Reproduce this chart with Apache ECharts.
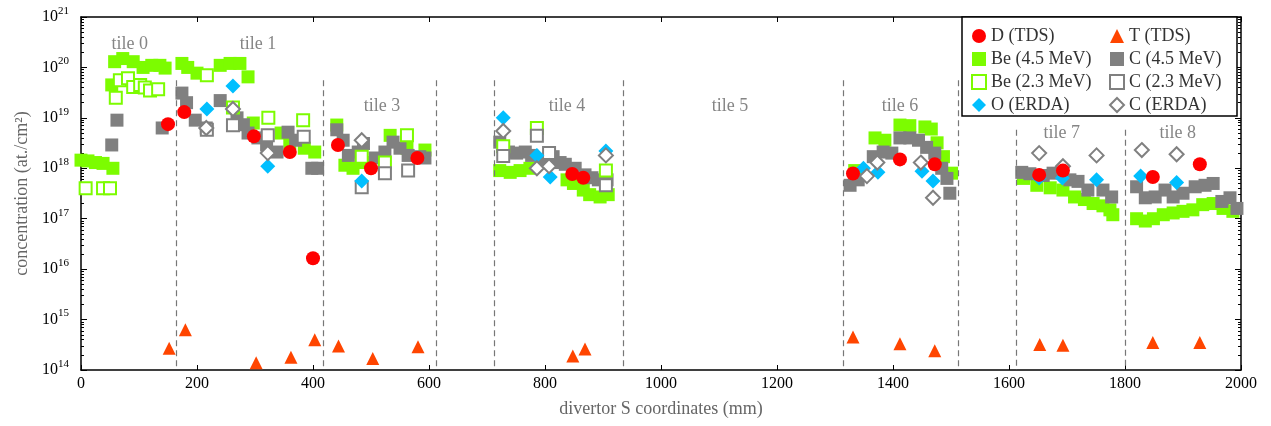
<!DOCTYPE html>
<html>
<head>
<meta charset="utf-8">
<script src="https://cdn.jsdelivr.net/npm/echarts@6/dist/echarts.min.js"></script>
<style>
  html, body { margin: 0; padding: 0; background: #fff; }
  #main { width: 1271px; height: 426px; }
</style>
</head>
<body>
<div id="main"></div>
<script>
// D (TDS)
var dS = [150, 178, 298, 360, 400, 443, 500, 580, 847, 866, 1331, 1412, 1472, 1652, 1693, 1848, 1929]
var dVal = [7.5e18, 1.3e19, 4.3e18, 2.1e18, 1.65e16, 2.9e18, 1e18, 1.6e18, 7.7e17, 6.5e17, 7.9e17, 1.5e18, 1.2e18, 7.4e17, 9e17, 6.7e17, 1.2e18]

// T (TDS)
var tS = [152, 180, 302, 362, 403, 444, 503, 581, 848, 869, 1331, 1412, 1472, 1653, 1693, 1848, 1929]
var tVal = [2.7e14, 6.3e14, 1.4e14, 1.8e14, 4e14, 3e14, 1.7e14, 2.9e14, 1.9e14, 2.6e14, 4.5e14, 3.3e14, 2.4e14, 3.2e14, 3.1e14, 3.5e14, 3.5e14]

// Be (4.5 MeV)
var be45S = [0, 12, 25, 38, 55, 53, 58, 72, 90, 107, 122, 136, 145,
    174, 184, 200, 240, 257, 274, 288, 297, 345, 360, 385, 403,
    441, 455, 469, 487, 533, 562, 593,
    722, 740, 757, 774, 810, 838, 849, 866, 877, 895, 909,
    1334, 1369, 1386, 1412, 1429, 1455, 1466, 1476, 1487, 1501,
    1625, 1648, 1671, 1693, 1713, 1730, 1745, 1762, 1774, 1779,
    1820, 1835, 1849, 1866, 1883, 1900, 1917, 1934, 1952, 1969, 1986]
var be45Val = [1.45e18, 1.4e18, 1.3e18, 1.25e18, 1e18, 4.5e19, 1.3e20, 1.5e20, 1.3e20, 1e20, 1.1e20, 1.1e20, 9.7e19,
    1.2e20, 1e20, 7.7e19, 1.1e20, 1.2e20, 1.2e20, 6.5e19, 7.9e18, 5e18, 3.2e18, 2.5e18, 2.1e18,
    7.2e18, 1.15e18, 1e18, 1.3e18, 4.5e18, 2.5e18, 2.3e18,
    9e17, 8.3e17, 9e17, 1e18, 1.6e18, 5.9e17, 5e17, 3.7e17, 3e17, 2.7e17, 3e17,
    9e17, 4e18, 3.6e18, 7.2e18, 7e18, 6.6e18, 6e18, 3.2e18, 1.7e18, 8e17,
    6.3e17, 4.6e17, 4.1e17, 3.7e17, 2.7e17, 2.4e17, 2e17, 1.8e17, 1.5e17, 1.2e17,
    1e17, 9e16, 1e17, 1.2e17, 1.3e17, 1.4e17, 1.5e17, 1.9e17, 2e17, 1.6e17, 1.4e17]

// Be (2.3 MeV)
var be23S = [8, 38, 50, 60, 67, 81, 90, 102, 110, 119, 133,
    217, 262, 323, 383,
    484, 524, 562,
    728, 786, 905]
var be23Val = [4e17, 4e17, 4e17, 2.5e19, 5.6e19, 6.1e19, 4.1e19, 4.5e19, 4e19, 3.5e19, 3.7e19,
    7e19, 1.6e19, 1e19, 9e18,
    1.7e18, 1.3e18, 4.5e18,
    2.75e18, 6.3e18, 9e17]

// C (4.5 MeV)
var c45S = [53, 62, 140,
    174, 182, 197, 216, 240, 269, 280, 288, 305, 320, 338, 357, 370, 398, 408,
    441, 452, 461, 478, 487, 507, 524, 538, 550, 564, 584, 593,
    722, 737, 751, 766, 777, 797, 814, 826, 835, 852, 869, 881, 892, 907,
    1326, 1340, 1366, 1383, 1398, 1412, 1429, 1444, 1458, 1472, 1484, 1493, 1498,
    1622, 1636, 1659, 1676, 1705, 1719, 1736, 1762, 1777,
    1820, 1835, 1852, 1869, 1883, 1900, 1921, 1938, 1952, 1967, 1981, 1993]
var c45Val = [2.9e18, 9e18, 6.3e18,
    3.1e19, 2e19, 9e18, 6.3e18, 2.2e19, 1e19, 7.3e18, 5e18, 4e18, 2.9e18, 2.1e18, 5.2e18, 3.6e18, 1e18, 1e18,
    5.8e18, 3.6e18, 1.8e18, 2.1e18, 3.1e18, 1.6e18, 2.1e18, 3.3e18, 2.5e18, 1.8e18, 1.7e18, 1.6e18,
    3.3e18, 2.1e18, 2e18, 2.1e18, 1.8e18, 1.3e18, 1.7e18, 1.3e18, 1.2e18, 1e18, 7.4e17, 6.5e17, 5.9e17, 5.9e17,
    4.6e17, 5.9e17, 1.7e18, 2.1e18, 2e18, 4e18, 4e18, 3.6e18, 2.6e18, 2e18, 1e18, 6.3e17, 3.2e17,
    8.3e17, 7.8e17, 7.2e17, 8e17, 5.9e17, 5.5e17, 3.7e17, 3.7e17, 2.7e17,
    4.3e17, 2.6e17, 2.7e17, 3.7e17, 2.7e17, 3.2e17, 4.3e17, 4.6e17, 5e17, 2.2e17, 2.6e17, 1.6e17]

// C (2.3 MeV)
var c23S = [217, 262, 322, 384, 484, 524, 564, 728, 786, 807, 905]
var c23Val = [5.8e18, 7.1e18, 4.5e18, 4.2e18, 4.2e17, 8e17, 9e17, 1.75e18, 4.4e18, 2e18, 4.6e17]

// C (ERDA)
var cErdaS = [216, 262, 322, 484, 728, 786, 807, 905, 1355, 1373, 1448, 1469, 1652, 1693, 1751, 1829, 1889]
var cErdaVal = [6.3e18, 1.5e19, 2e18, 3.6e18, 5.5e18, 1e18, 1.1e18, 1.8e18, 7e17, 1.3e18, 1.3e18, 2.6e17, 2e18, 1.1e18, 1.8e18, 2.3e18, 1.9e18]

// O (ERDA)
var oS = [217, 262, 322, 484, 728, 786, 809, 905, 1349, 1374, 1450, 1469, 1652, 1692, 1751, 1827, 1889]
var oVal = [1.5e19, 4.3e19, 1.1e18, 5.6e17, 1e19, 1.8e18, 6.7e17, 2.2e18, 1e18, 8.3e17, 8.7e17, 5.6e17, 6.4e17, 6.4e17, 5.9e17, 7e17, 5.2e17]

// tile names and divider lines
var tileNames = ['tile 0', 'tile 1', 'tile 3', 'tile 4', 'tile 5', 'tile 6', 'tile 7', 'tile 8']
var tileS = [84, 305, 519, 838, 1119, 1412, 1691, 1891]
var tileY = [2.9e20, 2.9e20, 1.7e19, 1.7e19, 1.7e19, 1.7e19, 5e18, 5e18]
var dividerS = [165, 417, 612, 712, 935, 1315, 1512, 1612, 1800]
var dividerTop = [5.6e19, 5.6e19, 5.6e19, 5.6e19, 5.6e19, 5.6e19, 5.6e19, 5.8e18, 5.8e18]

function zip(a, b) {
    return a.map(function (v, i) { return [v, b[i]] })
}

// minor log ticks (2..9 x 10^n) in exponent space
var minorLog = []
for (var n = 14; n < 21; n++) {
    for (var k = 2; k <= 9; k++) minorLog.push(n + Math.log10(k))
}

var serif = 'Liberation Serif'
var SZ = 13

var myChart = echarts.init(document.getElementById('main'))

var legendBase = {
    top: 27, orient: 'vertical', padding: 0, z: 10,
    itemWidth: 14, itemHeight: 14, itemGap: 5, itemTextGap: 8,
    selectedMode: false,
    textStyle: { fontFamily: serif, fontSize: 18, color: '#333' }
}

var option = {
    animation: false,
    backgroundColor: '#fff',
    textStyle: { fontFamily: serif },
    grid: { left: 81, right: 30, top: 17, bottom: 56 },
    legend: [
        Object.assign({}, legendBase, {
            left: 971,
            data: ['D (TDS)', 'Be (4.5 MeV)', 'Be (2.3 MeV)', 'O (ERDA)']
        }),
        Object.assign({}, legendBase, {
            left: 1109,
            data: ['T (TDS)', 'C (4.5 MeV)', 'C (2.3 MeV)', 'C (ERDA)']
        })
    ],
    graphic: [{
        type: 'rect', z: 5,
        shape: { x: 962, y: 17, width: 275, height: 99 },
        style: { fill: '#fff', stroke: '#000', lineWidth: 1.5 }
    }],
    xAxis: [
        {
            type: 'value', min: 0, max: 2000, interval: 200,
            name: 'divertor S coordinates (mm)', nameLocation: 'middle', nameGap: 30,
            nameTextStyle: { fontFamily: serif, fontSize: 18, color: '#666' },
            axisLine: { lineStyle: { color: '#000', width: 1.5 } },
            axisTick: { inside: true, length: 5, lineStyle: { color: '#000' } },
            axisLabel: {
                fontFamily: serif, fontSize: 16, color: '#000', margin: 6,
                formatter: function (v) { return String(v) }
            },
            splitLine: { show: false }
        },
        {
            type: 'value', min: 0, max: 2000, interval: 200, position: 'top',
            axisLine: { lineStyle: { color: '#000', width: 1.5 } },
            axisTick: { inside: true, length: 5, lineStyle: { color: '#000' } },
            axisLabel: { show: false },
            splitLine: { show: false }
        }
    ],
    yAxis: [
        {
            type: 'log', logBase: 10, min: 1e14, max: 1e21, splitNumber: 7,
            name: 'concentration (at./cm²)', nameLocation: 'middle', nameGap: 50,
            nameTextStyle: { fontFamily: serif, fontSize: 18, color: '#666' },
            axisLine: { lineStyle: { color: '#000', width: 1.5 } },
            axisTick: { inside: true, length: 6, lineStyle: { color: '#000' } },
            axisLabel: {
                margin: 12,
                formatter: function (v) {
                    return '{b|10}{s|' + Math.round(Math.log10(v)) + '}'
                },
                rich: {
                    b: { fontFamily: serif, fontSize: 16, color: '#000' },
                    s: { fontFamily: serif, fontSize: 11, color: '#000', padding: [0, 0, 12, 0] }
                }
            },
            splitLine: { show: false }
        },
        {
            type: 'value', min: 14, max: 21, position: 'left',
            axisLine: { show: false },
            axisTick: { inside: true, length: 3, customValues: minorLog, lineStyle: { color: '#000' } },
            axisLabel: { show: false },
            splitLine: { show: false }
        },
        {
            type: 'log', logBase: 10, min: 1e14, max: 1e21, splitNumber: 7, position: 'right',
            axisLine: { lineStyle: { color: '#000', width: 1.5 } },
            axisTick: { inside: true, length: 6, lineStyle: { color: '#000' } },
            axisLabel: { show: false },
            splitLine: { show: false }
        },
        {
            type: 'value', min: 14, max: 21, position: 'right',
            axisLine: { show: false },
            axisTick: { inside: true, length: 3, customValues: minorLog, lineStyle: { color: '#000' } },
            axisLabel: { show: false },
            splitLine: { show: false }
        }
    ],
    series: [
        {
            name: 'dividers', type: 'scatter', data: [], silent: true,
            markLine: {
                silent: true, symbol: 'none', animation: false,
                label: { show: false },
                lineStyle: { color: '#777', width: 1.2, type: [6, 4] },
                data: dividerS.map(function (s, i) {
                    return [{ coord: [s, dividerTop[i]] }, { coord: [s, 1e14] }]
                })
            }
        },
        {
            name: 'tiles', type: 'scatter', silent: true, symbolSize: 1,
            itemStyle: { color: 'transparent' },
            label: {
                show: true, position: 'inside', formatter: '{b}',
                fontFamily: serif, fontSize: 18, color: '#666'
            },
            data: tileNames.map(function (t, i) { return { name: t, value: [tileS[i], tileY[i]] } })
        },
        {
            name: 'Be (4.5 MeV)', type: 'scatter', symbol: 'rect', symbolSize: SZ,
            itemStyle: { color: '#7cfc00', opacity: 1 },
            data: zip(be45S, be45Val)
        },
        {
            name: 'C (4.5 MeV)', type: 'scatter', symbol: 'rect', symbolSize: SZ,
            itemStyle: { color: '#808080', opacity: 1 },
            data: zip(c45S, c45Val)
        },
        {
            name: 'Be (2.3 MeV)', type: 'scatter', symbol: 'rect', symbolSize: SZ - 1,
            itemStyle: { color: '#fff', borderColor: '#7cfc00', borderWidth: 2, opacity: 1 },
            data: zip(be23S, be23Val)
        },
        {
            name: 'C (2.3 MeV)', type: 'scatter', symbol: 'rect', symbolSize: SZ - 1,
            itemStyle: { color: '#fff', borderColor: '#808080', borderWidth: 2, opacity: 1 },
            data: zip(c23S, c23Val)
        },
        {
            name: 'O (ERDA)', type: 'scatter', symbol: 'diamond', symbolSize: 15,
            itemStyle: { color: '#00bfff', opacity: 1 },
            data: zip(oS, oVal)
        },
        {
            name: 'C (ERDA)', type: 'scatter', symbol: 'diamond', symbolSize: 14,
            itemStyle: { color: '#fff', borderColor: '#808080', borderWidth: 2, opacity: 1 },
            data: zip(cErdaS, cErdaVal)
        },
        {
            name: 'D (TDS)', type: 'scatter', symbol: 'circle', symbolSize: 14,
            itemStyle: { color: '#ff0000', opacity: 1 },
            data: zip(dS, dVal)
        },
        {
            name: 'T (TDS)', type: 'scatter', symbol: 'triangle', symbolSize: 13,
            itemStyle: { color: '#ff4500', opacity: 1 },
            data: zip(tS, tVal)
        }
    ]
}

myChart.setOption(option)
</script>
</body>
</html>
